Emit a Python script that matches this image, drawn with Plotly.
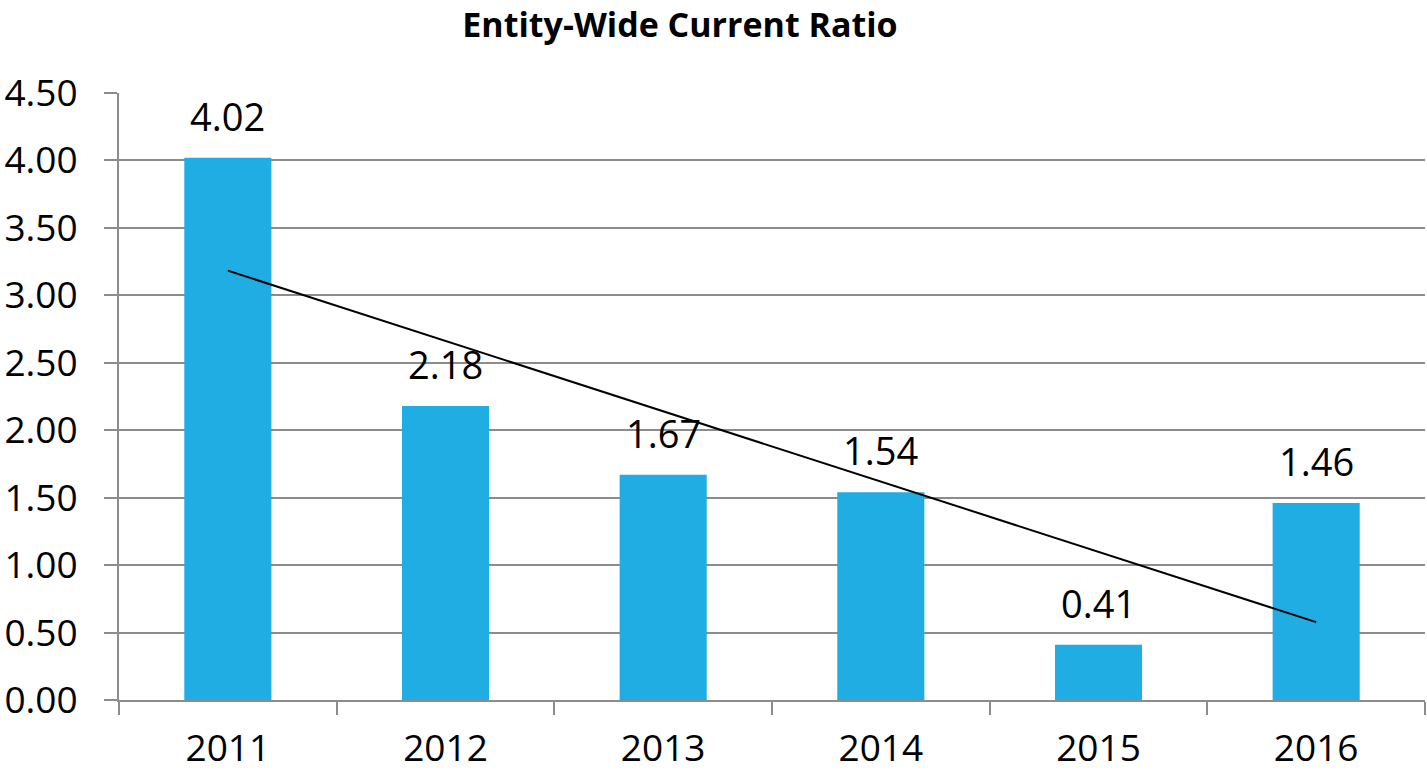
import numpy as np
import plotly.graph_objects as go

years = ["2011", "2012", "2013", "2014", "2015", "2016"]
ratios = [4.02, 2.18, 1.67, 1.54, 0.41, 1.46]
y_ticks = [0, 0.5, 1.0, 1.5, 2.0, 2.5, 3.0, 3.5, 4.0, 4.5]

BAR = "#1FADE4"
GRID = "#8C8C8C"
FONT = "Open Sans"

# linear least-squares trend across the years
idx = np.arange(1, len(ratios) + 1)
slope, intercept = np.polyfit(idx, ratios, 1)
trend = slope * idx + intercept

fig = go.Figure()
fig.add_trace(go.Bar(
    x=years, y=ratios, width=0.4,
    marker=dict(color=BAR, line=dict(width=0)),
    showlegend=False,
))
fig.add_trace(go.Scatter(
    x=years, y=trend, mode="lines",
    line=dict(color="#000000", width=2), showlegend=False,
))

# value labels sitting above each bar (category index positions)
for i, v in enumerate(ratios):
    fig.add_annotation(
        x=i, y=v, xref="x", yref="y", text=f"{v:.2f}", showarrow=False,
        yanchor="bottom", yshift=14,
        font=dict(family=FONT, size=38, color="#000000"),
    )

fig.update_layout(
    width=1427, height=777,
    margin=dict(l=119, r=2, t=93, b=77),
    paper_bgcolor="white", plot_bgcolor="white",
    font=dict(family=FONT, color="#000000"),
    title=dict(text="<b>Entity-Wide Current Ratio</b>", x=680 / 1427, xanchor="center",
               y=1 - 25 / 777, yanchor="middle",
               font=dict(family=FONT, size=34, color="#000000")),
)
fig.update_xaxes(
    type="category", categoryorder="array", categoryarray=years,
    range=[-0.5, len(years) - 0.5], automargin=False,
    tickson="boundaries", ticks="outside", ticklen=13,
    tickwidth=2, tickcolor=GRID, showline=True, linecolor=GRID, linewidth=2,
    showgrid=False, ticklabelstandoff=15,
    tickfont=dict(family=FONT, size=37, color="#000000"),
)
fig.update_yaxes(
    range=[0, 4.5], tickvals=y_ticks, ticktext=[f"{v:.2f}" for v in y_ticks],
    automargin=False,
    ticks="outside", ticklen=13, tickwidth=2, tickcolor=GRID,
    showline=True, linecolor=GRID, linewidth=2,
    showgrid=True, gridcolor=GRID, gridwidth=2, zeroline=False,
    ticklabelstandoff=19, tickfont=dict(family=FONT, size=37, color="#000000"),
)

fig.write_html("out.html")
